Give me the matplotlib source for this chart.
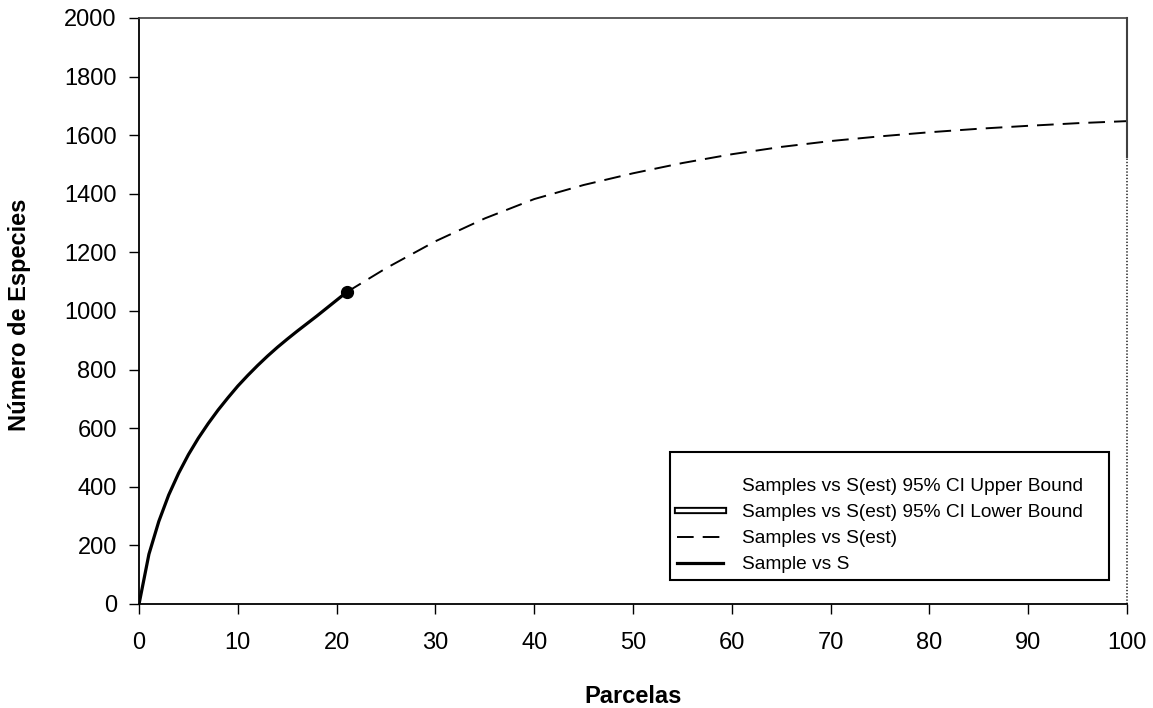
import matplotlib
matplotlib.use("Agg")
import matplotlib.pyplot as plt
import matplotlib.patheffects as pe
from matplotlib.lines import Line2D

# observed accumulation (parcels 0..21)
parcelas_obs = list(range(0, 22))
especies_obs = [0, 170, 282, 372, 446, 510, 566, 616, 662, 704, 744,
                780, 814, 846, 876, 904, 931, 957, 983, 1010, 1037, 1064]

# extrapolated S(est) beyond the sampled parcels
parcelas_est = [21, 25, 30, 35, 40, 45, 50, 55, 60, 65, 70, 75, 80, 85, 90, 95, 100]
especies_est = [1064, 1146, 1238, 1316, 1382, 1430, 1470, 1505, 1535, 1560,
                1580, 1596, 1610, 1622, 1632, 1641, 1648]

borde_derecho = 1525  # where the right border turns dotted

etiquetas = ["Samples vs S(est) 95% CI Upper Bound",
             "Samples vs S(est) 95% CI Lower Bound",
             "Samples vs S(est)",
             "Sample vs S"]

plt.rcParams["font.family"] = ["Liberation Sans", "DejaVu Sans"]
plt.rcParams["lines.scale_dashes"] = False

fig = plt.figure(figsize=(11.53, 7.08), dpi=100)
ax = fig.add_axes([0.1206, 0.1469, 0.8569, 0.8277])

ax.plot(parcelas_est, especies_est, color="black", lw=1.4, dashes=(12, 6.5))
ax.plot(parcelas_obs, especies_obs, color="black", lw=2.3, solid_capstyle="round")
ax.plot(parcelas_obs[-1], especies_obs[-1], "o", color="black", ms=8.5)

ax.set_xlim(0, 100)
ax.set_ylim(0, 2000)
ax.set_xticks(range(0, 101, 10))
ax.set_yticks(range(0, 2001, 200))
ax.tick_params(direction="out", length=7, width=1, labelsize=17, colors="black")
ax.tick_params(axis="y", pad=9)
ax.tick_params(axis="x", pad=13)

for s in ["left", "bottom"]:
    ax.spines[s].set_linewidth(1.3)
    ax.spines[s].set_color("black")
ax.spines["top"].set_linewidth(1.2)
ax.spines["top"].set_color("#404040")
ax.spines["right"].set_visible(False)
# right border: solid at the top, dotted below
ax.plot([100, 100], [borde_derecho, 2000], color="#404040", lw=1.5, clip_on=False)
ax.plot([100, 100], [0, borde_derecho], color="#303030", lw=1.2,
        ls=(0, (1, 1.3)), clip_on=False)

# legend
h_up = Line2D([], [], color="white", lw=2)
h_low = Line2D([], [], color="white", lw=2.4,
               path_effects=[pe.Stroke(linewidth=5.2, foreground="black"), pe.Normal()])
h_est = Line2D([], [], color="black", lw=1.4, dashes=(12, 6.5))
h_obs = Line2D([], [], color="black", lw=2.3)
leg = ax.legend([h_up, h_low, h_est, h_obs], etiquetas, loc="lower left",
                bbox_to_anchor=(0.5374, 0.041, 0.4444, 0.22), mode="expand",
                fontsize=13.8, fancybox=False, edgecolor="black", framealpha=1,
                borderpad=0.35, labelspacing=0.45, handlelength=2.4,
                handletextpad=1.0, borderaxespad=0,
                title=" ", title_fontsize=7)
leg.get_frame().set_linewidth(1.5)

fig.text(0.549, 0.016, "Parcelas", fontsize=17, fontweight="bold",
         ha="center", va="center")
fig.text(0.0173, 0.555, "Número de Especies", fontsize=17, fontweight="bold",
         rotation=90, ha="center", va="center")

fig.savefig("out.png", dpi=100)
